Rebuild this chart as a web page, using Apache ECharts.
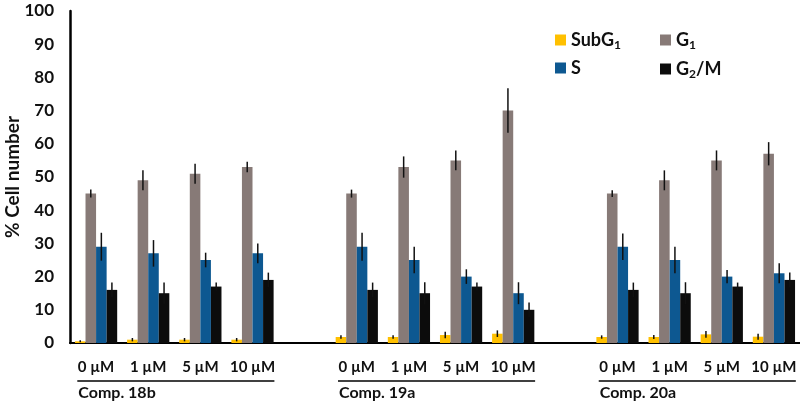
<!DOCTYPE html>
<html>
<head>
<meta charset="utf-8">
<script src="https://cdn.jsdelivr.net/npm/echarts@6/dist/echarts.min.js"></script>
<style>
  html, body { margin: 0; padding: 0; background: #fff; }
  #chart { width: 800px; height: 404px; }
</style>
</head>
<body>
<div id="chart"></div>
<script>
// 14 slots: 3 compounds x 4 doses, with an empty slot between compounds
var doses = ['0 µM', '1 µM', '5 µM', '10 µM', '', '0 µM', '1 µM', '5 µM', '10 µM', '', '0 µM', '1 µM', '5 µM', '10 µM'];
var groups = ['Comp. 18b', 'Comp. 19a', 'Comp. 20a'];
var groupStart = [0, 5, 10];
var groupEnd = [3, 8, 13];

var subG1 = [0.5, 1, 1, 1, null, 1.8, 1.8, 2.4, 2.8, null, 1.8, 1.8, 2.6, 1.9];
var subG1Err = [0.3, 0.5, 0.5, 0.5, null, 0.5, 0.5, 1, 1, null, 0.5, 0.6, 1, 0.9];
var g1 = [45, 49, 51, 53, null, 45, 53, 55, 70, null, 45, 49, 55, 57];
var g1Err = [1.2, 3, 3, 1.6, null, 1.2, 3.2, 3, 6.7, null, 1, 3, 3, 3.5];
var sPhase = [29, 27, 25, 27, null, 29, 25, 20, 15, null, 29, 25, 20, 21];
var sErr = [4.2, 4, 2.2, 3, null, 4.2, 4, 2.2, 3.3, null, 4, 4, 2, 3];
var g2m = [16, 15, 17, 19, null, 16, 15, 17, 10, null, 16, 15, 17, 19];
var g2mErr = [2.2, 3.2, 1.2, 2.2, null, 2.2, 3.3, 1.2, 2.2, null, 2.2, 3.3, 1.2, 2.2];

var seriesNames = ['SubG1', 'G1', 'S', 'G2/M'];
var seriesColors = ['#ffc000', '#877a77', '#0d5891', '#0c0c0c'];
var seriesData = [subG1, g1, sPhase, g2m];
var seriesErr = [subG1Err, g1Err, sErr, g2mErr];

var legendLabels = {
	'SubG1': '{t|SubG}{sub|1}',
	'G1': '{t|G}{sub|1}',
	'S': '{t|S}',
	'G2/M': '{t|G}{sub|2}{t|/M}'
};

var FONT = 'Lato';
var CAT_GAP = 0.19;

var chart = echarts.init(document.getElementById('chart'), null, { renderer: 'canvas' });

var legendText = {
	fontFamily: FONT,
	rich: {
		t: { fontFamily: FONT, fontSize: 18, fontWeight: 'bold', color: '#111', lineHeight: 22 },
		sub: { fontFamily: FONT, fontSize: 12, fontWeight: 'bold', color: '#111', lineHeight: 22, verticalAlign: 'bottom', padding: [9, 0, 0, 0] }
	}
};

var series = [];
seriesNames.forEach(function (name, k) {
	series.push({
		name: name,
		type: 'bar',
		data: seriesData[k],
		itemStyle: { color: seriesColors[k] },
		barGap: '0%',
		barCategoryGap: (CAT_GAP * 100) + '%',
		animation: false
	});
});

// error bars: one custom series per phase, offset to its bar
seriesNames.forEach(function (name, k) {
	var errData = [];
	seriesData[k].forEach(function (v, i) {
		if (v != null) errData.push([i, v - seriesErr[k][i], v + seriesErr[k][i]]);
	});
	series.push({
		type: 'custom',
		name: name + '_err',
		data: errData,
		z: 10,
		animation: false,
		silent: true,
		renderItem: function (params, api) {
			var i = api.value(0);
			var lo = api.coord([i, api.value(1)]);
			var hi = api.coord([i, api.value(2)]);
			var band = api.size([1, 0])[0];
			var barW = band * (1 - CAT_GAP) / 4;
			var x = lo[0] + (k - 1.5) * barW;
			return {
				type: 'line',
				shape: { x1: x, y1: lo[1], x2: x, y2: hi[1] },
				style: { stroke: '#111', lineWidth: 1.5 }
			};
		}
	});
});

function makeLegend(names, left) {
	return {
		data: names,
		orient: 'vertical',
		left: left,
		top: 25,
		itemGap: 8,
		itemWidth: 11,
		itemHeight: 11,
		icon: 'rect',
		selectedMode: false,
		formatter: function (n) { return legendLabels[n]; },
		textStyle: legendText
	};
}

var option = {
	backgroundColor: '#fff',
	grid: { left: 70, right: 0, top: 11, bottom: 61, outerBoundsMode: 'none', containLabel: false },
	legend: [makeLegend(['SubG1', 'S'], 550), makeLegend(['G1', 'G2/M'], 655)],
	xAxis: {
		type: 'category',
		data: doses,
		axisLine: { lineStyle: { color: '#000', width: 2 } },
		axisTick: { show: false },
		axisLabel: {
			interval: 0,
			margin: 17,
			color: '#111',
			fontFamily: FONT,
			fontSize: 15,
			fontWeight: 'bold'
		}
	},
	yAxis: {
		type: 'value',
		min: 0,
		max: 100,
		interval: 10,
		name: '% Cell number',
		nameLocation: 'middle',
		nameGap: 48,
		nameMoveOverlap: false,
		nameTextStyle: { color: '#111', fontFamily: FONT, fontSize: 19, fontWeight: 'bold' },
		axisLine: { show: true, lineStyle: { color: '#000', width: 2.5 } },
		axisTick: { show: false },
		splitLine: { show: false },
		axisLabel: {
			margin: 16,
			color: '#111',
			fontFamily: FONT,
			fontSize: 17,
			fontWeight: 'bold'
		}
	},
	series: series
};

chart.setOption(option);

// compound labels with underline, placed from the axis scale
function addGroupLabels() {
	var graphics = [];
	var band = chart.convertToPixel({ xAxisIndex: 0 }, 1) - chart.convertToPixel({ xAxisIndex: 0 }, 0);
	var baseY = chart.convertToPixel({ yAxisIndex: 0 }, 0);
	groups.forEach(function (g, j) {
		var x1 = chart.convertToPixel({ xAxisIndex: 0 }, groupStart[j]) - band * 0.36;
		var x2 = chart.convertToPixel({ xAxisIndex: 0 }, groupEnd[j]) + band * 0.42;
		graphics.push({
			type: 'line',
			shape: { x1: x1, y1: baseY + 38, x2: x2, y2: baseY + 38 },
			style: { stroke: '#000', lineWidth: 1.5 }
		});
		graphics.push({
			type: 'text',
			x: x1 + 1,
			y: baseY + 50,
			style: {
				text: g,
				fill: '#111',
				font: 'bold 16px ' + FONT,
				verticalAlign: 'middle'
			}
		});
	});
	chart.setOption({ graphic: graphics });
}
addGroupLabels();
</script>
</body>
</html>
